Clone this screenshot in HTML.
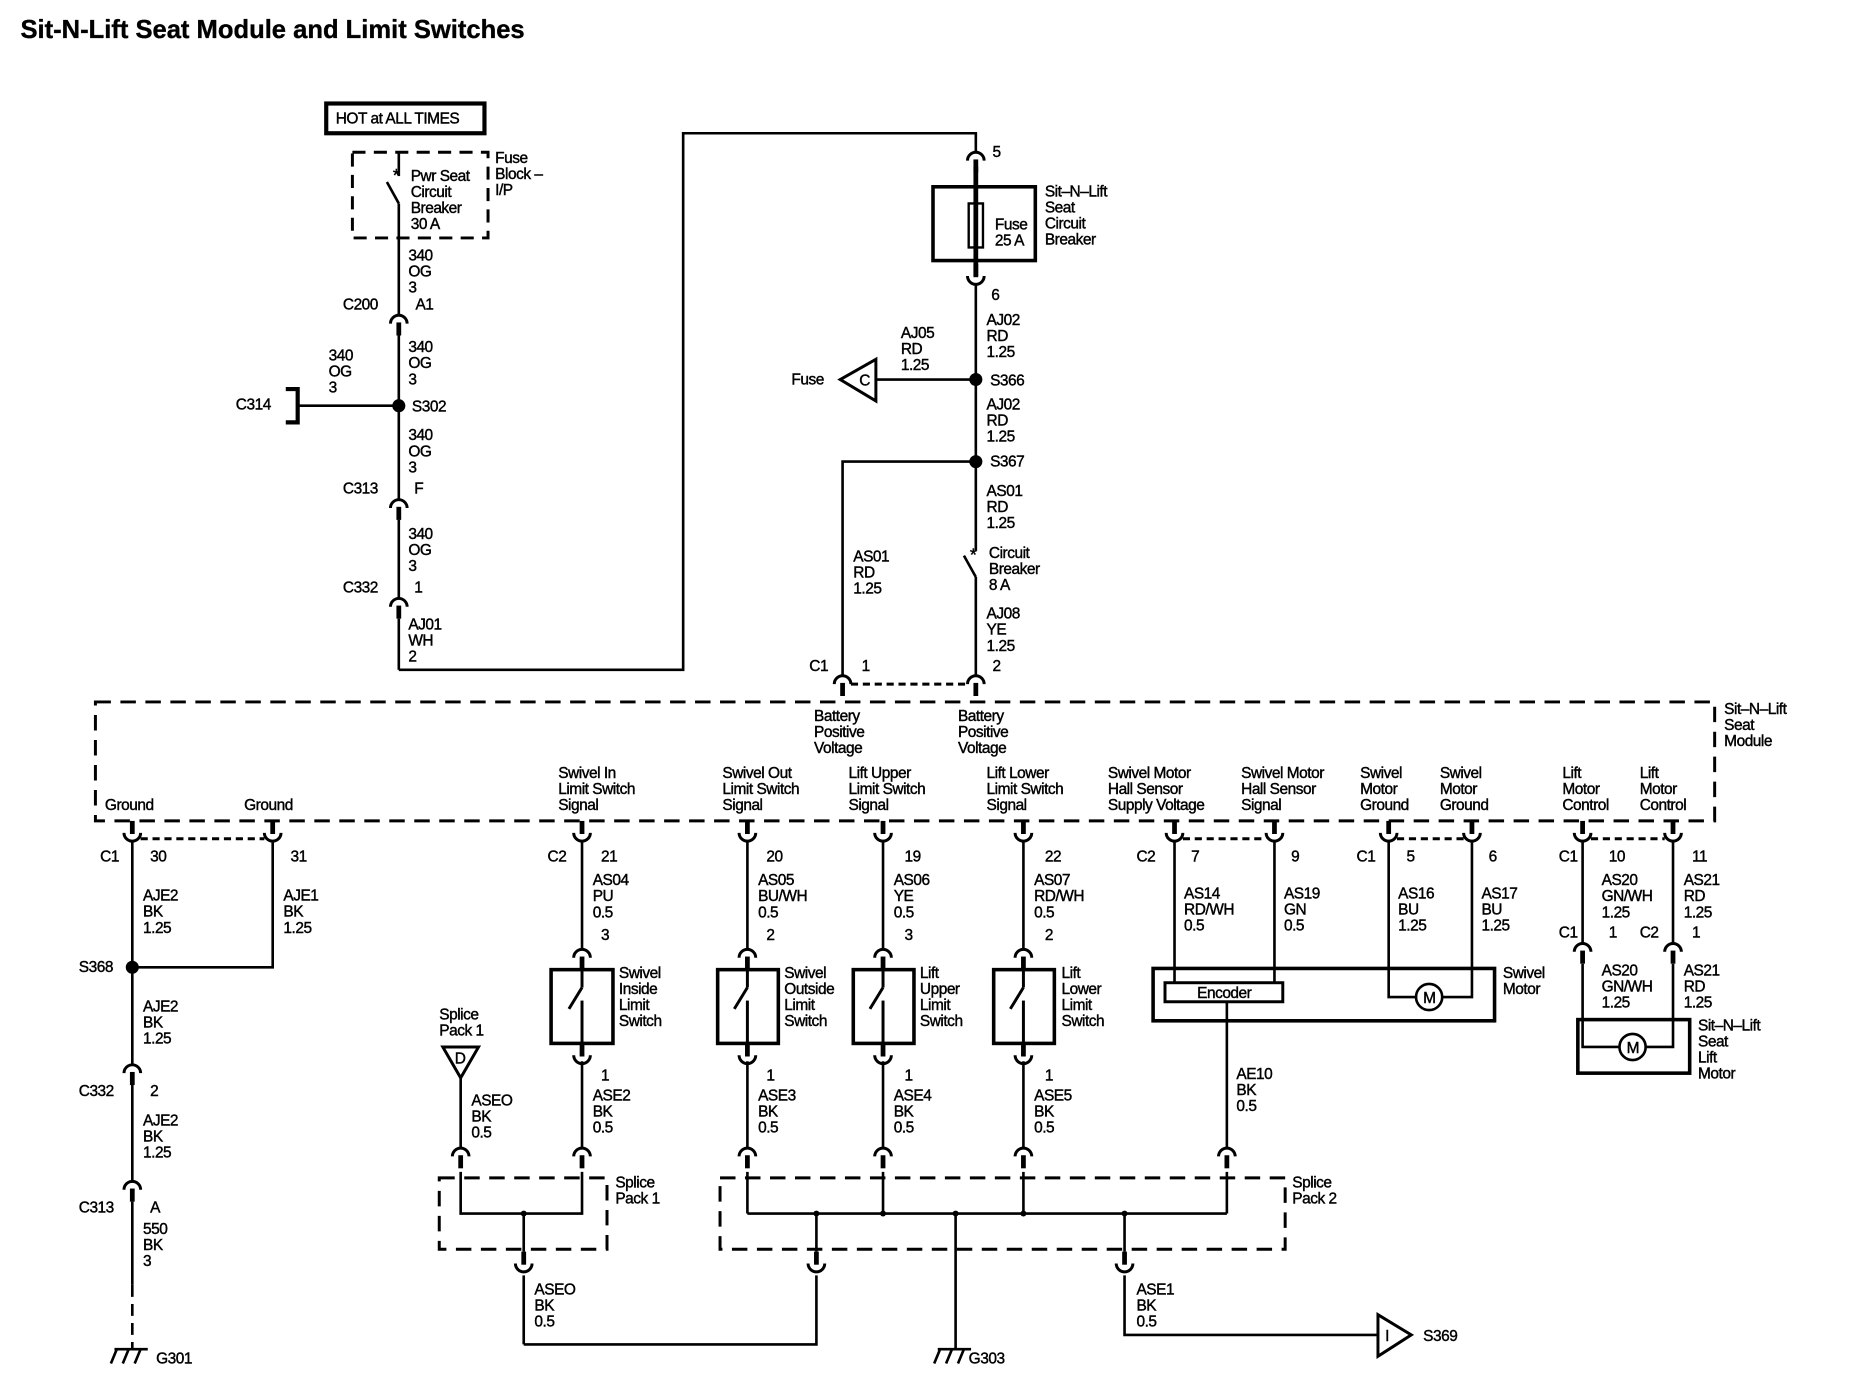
<!DOCTYPE html>
<html><head><meta charset="utf-8"><style>
html,body{margin:0;padding:0;background:#fff;}
svg{display:block;}
text{font-family:"Liberation Sans",Arial,sans-serif;font-size:13px;fill:#000;stroke:#000;stroke-width:0.35px;letter-spacing:-0.4px;}
</style></head><body>
<svg width="1866" height="1392" viewBox="0 0 1568 1170" xmlns="http://www.w3.org/2000/svg">
<defs>
<g id="U"><line x1="0" y1="-10" x2="0" y2="1" stroke="#000" stroke-width="4"/><path d="M-7,0 A7,7 0 0 0 7,0" fill="none" stroke="#000" stroke-width="2.5"/></g>
<g id="N"><path d="M-7,7 A7,7 0 0 1 7,7" fill="none" stroke="#000" stroke-width="2.5"/><line x1="0" y1="6" x2="0" y2="17" stroke="#000" stroke-width="4"/></g>
</defs>
<rect width="1568" height="1170" fill="#fff"/>
<text x="17" y="32" style="font-size:21.5px;font-weight:bold;letter-spacing:0px;stroke-width:0.3px">Sit-N-Lift Seat Module and Limit Switches</text>

<g stroke="#000" stroke-width="2.2" fill="none">
<rect x="274" y="87" width="133" height="25" stroke-width="3.5"/>
<rect x="296" y="128" width="114" height="72" stroke-dasharray="11,7" stroke-width="2.5"/>
<line x1="335" y1="128" x2="335" y2="148"/>
<line x1="325" y1="153" x2="335" y2="171"/>
<line x1="335" y1="171" x2="335" y2="265"/>
<line x1="335" y1="282" x2="335" y2="420"/>
<line x1="335" y1="437" x2="335" y2="503"/>
<line x1="335" y1="520" x2="335" y2="563"/>
<polyline points="335,563 574,563 574,112 820,112 820,128"/>
<line x1="250" y1="341" x2="335" y2="341"/>
<polyline points="240,327 250,327 250,355 240,355" stroke-width="3.5"/>
<line x1="820" y1="140" x2="820" y2="232" stroke-width="4"/>
<rect x="784" y="157" width="86" height="62" stroke-width="3"/>
<rect x="814" y="171" width="12" height="37" stroke-width="2"/>
<line x1="820" y1="239" x2="820" y2="463"/>
<line x1="810" y1="467" x2="820" y2="485"/>
<line x1="820" y1="485" x2="820" y2="568"/>
<line x1="736" y1="319" x2="820" y2="319"/>
<polygon points="706,319 736,302 736,337" stroke-width="2.5"/>
<polyline points="820,388 708,388 708,568"/>
<line x1="715" y1="575" x2="813" y2="575" stroke-dasharray="6,4" stroke-width="2.5"/>
<rect x="80" y="590" width="1361" height="100" stroke-dasharray="13,8" stroke-width="2.5"/>
<line x1="118" y1="705" x2="222" y2="705" stroke-dasharray="6,4" stroke-width="2.5"/>
<line x1="994" y1="705" x2="1064" y2="705" stroke-dasharray="6,4" stroke-width="2.5"/>
<line x1="1174" y1="705" x2="1230" y2="705" stroke-dasharray="6,4" stroke-width="2.5"/>
<line x1="1337" y1="705" x2="1399" y2="705" stroke-dasharray="6,4" stroke-width="2.5"/>
<line x1="111" y1="707" x2="111" y2="895"/>
<polyline points="229,707 229,813 111,813"/>
<line x1="111" y1="912" x2="111" y2="993"/>
<line x1="111" y1="1010" x2="111" y2="1080"/>
<line x1="111" y1="1080" x2="111" y2="1133" stroke-dasharray="10,6"/>
<line x1="96" y1="1134" x2="124" y2="1134"/>
<line x1="98" y1="1134" x2="93" y2="1146"/><line x1="108" y1="1134" x2="103" y2="1146"/><line x1="118" y1="1134" x2="113" y2="1146"/>
<line x1="489" y1="707" x2="489" y2="798"/>
<line x1="628" y1="707" x2="628" y2="798"/>
<line x1="742" y1="707" x2="742" y2="798"/>
<line x1="860" y1="707" x2="860" y2="798"/>
<g stroke-width="3">
<rect x="463" y="815" width="52" height="62"/>
<rect x="603" y="815" width="51" height="62"/>
<rect x="717" y="815" width="51" height="62"/>
<rect x="835" y="815" width="51" height="62"/>
</g>
<g stroke-width="2.5">
<line x1="489" y1="815" x2="489" y2="830"/><line x1="489" y1="830" x2="478" y2="848"/><line x1="489" y1="841" x2="489" y2="877"/>
<line x1="628" y1="815" x2="628" y2="830"/><line x1="628" y1="830" x2="617" y2="848"/><line x1="628" y1="841" x2="628" y2="877"/>
<line x1="742" y1="815" x2="742" y2="830"/><line x1="742" y1="830" x2="731" y2="848"/><line x1="742" y1="841" x2="742" y2="877"/>
<line x1="860" y1="815" x2="860" y2="830"/><line x1="860" y1="830" x2="849" y2="848"/><line x1="860" y1="841" x2="860" y2="877"/>
</g>
<line x1="489" y1="892" x2="489" y2="965"/>
<line x1="628" y1="892" x2="628" y2="965"/>
<line x1="742" y1="892" x2="742" y2="965"/>
<line x1="860" y1="892" x2="860" y2="965"/>
<polygon points="372,880 402,880 387,906" stroke-width="2.5"/>
<line x1="387" y1="906" x2="387" y2="965"/>
<rect x="369" y="990" width="141" height="60" stroke-dasharray="13,8" stroke-width="2.5"/>
<polyline points="387,985 387,1020 489,1020 489,985"/>
<line x1="440" y1="1020" x2="440" y2="1052"/>
<line x1="440" y1="1072" x2="440" y2="1130"/>
<polyline points="440,1130 686,1130 686,1072"/>
<rect x="605" y="990" width="475" height="60" stroke-dasharray="13,8" stroke-width="2.5"/>
<line x1="628" y1="1020" x2="1031" y2="1020"/>
<line x1="628" y1="985" x2="628" y2="1020"/>
<line x1="742" y1="985" x2="742" y2="1020"/>
<line x1="860" y1="985" x2="860" y2="1020"/>
<line x1="1031" y1="842" x2="1031" y2="965"/>
<line x1="1031" y1="985" x2="1031" y2="1020"/>
<line x1="686" y1="1020" x2="686" y2="1052"/>
<line x1="945" y1="1020" x2="945" y2="1052"/>
<line x1="803" y1="1020" x2="803" y2="1134"/>
<line x1="788" y1="1134" x2="816" y2="1134"/>
<line x1="790" y1="1134" x2="785" y2="1146"/><line x1="800" y1="1134" x2="795" y2="1146"/><line x1="810" y1="1134" x2="805" y2="1146"/>
<polyline points="945,1072 945,1122 1158,1122"/>
<polygon points="1158,1105 1158,1140 1186,1122" stroke-width="2.5"/>
<rect x="969" y="814" width="287" height="44" stroke-width="3"/>
<rect x="979" y="826" width="99" height="16" stroke-width="2.5"/>
<line x1="987" y1="707" x2="987" y2="826"/>
<line x1="1071" y1="707" x2="1071" y2="826"/>
<polyline points="1167,707 1167,838 1190,838"/>
<polyline points="1237,707 1237,838 1212,838"/>
<circle cx="1201" cy="838" r="11"/>
<line x1="1330" y1="707" x2="1330" y2="793"/>
<line x1="1406" y1="707" x2="1406" y2="793"/>
<rect x="1326" y="857" width="94" height="45" stroke-width="3"/>
<polyline points="1330,810 1330,880 1361,880"/>
<polyline points="1406,810 1406,880 1383,880"/>
<circle cx="1372" cy="880" r="11"/>
</g>
<g fill="#000">
<circle cx="335" cy="341" r="5.5"/>
<circle cx="820" cy="319" r="5.5"/>
<circle cx="820" cy="388" r="5.5"/>
<circle cx="111" cy="813" r="5.5"/>
<circle cx="440" cy="1020" r="2.5"/><circle cx="686" cy="1020" r="2.5"/><circle cx="742" cy="1020" r="2.5"/><circle cx="803" cy="1020" r="2.5"/><circle cx="860" cy="1020" r="2.5"/><circle cx="945" cy="1020" r="2.5"/>
</g>
<use href="#N" x="335" y="265"/>
<use href="#N" x="335" y="420"/>
<use href="#N" x="335" y="503"/>
<use href="#N" x="820" y="128"/>
<use href="#U" x="820" y="232"/>
<use href="#N" x="708" y="568"/>
<use href="#N" x="820" y="568"/>
<use href="#U" x="111" y="700"/><use href="#U" x="229" y="700"/><use href="#U" x="489" y="700"/><use href="#U" x="628" y="700"/><use href="#U" x="742" y="700"/><use href="#U" x="860" y="700"/><use href="#U" x="987" y="700"/><use href="#U" x="1071" y="700"/><use href="#U" x="1167" y="700"/><use href="#U" x="1237" y="700"/><use href="#U" x="1330" y="700"/><use href="#U" x="1406" y="700"/>
<use href="#N" x="489" y="798"/><use href="#N" x="628" y="798"/><use href="#N" x="742" y="798"/><use href="#N" x="860" y="798"/>
<use href="#U" x="489" y="887"/><use href="#U" x="628" y="887"/><use href="#U" x="742" y="887"/><use href="#U" x="860" y="887"/>
<use href="#N" x="111" y="895"/>
<use href="#N" x="111" y="993"/>
<use href="#N" x="387" y="965"/><use href="#N" x="489" y="965"/><use href="#N" x="628" y="965"/><use href="#N" x="742" y="965"/><use href="#N" x="860" y="965"/><use href="#N" x="1031" y="965"/>
<use href="#U" x="440" y="1062"/><use href="#U" x="686" y="1062"/><use href="#U" x="945" y="1062"/>
<use href="#N" x="1330" y="793"/><use href="#N" x="1406" y="793"/>

<text x="282" y="104">HOT at ALL TIMES</text>
<text x="416" y="137">Fuse<tspan x="416" dy="13.5">Block –</tspan><tspan x="416" dy="13.5">I/P</tspan></text>
<text x="330" y="152" style="font-size:15px">*</text>
<text x="345" y="152">Pwr Seat<tspan x="345" dy="13.5">Circuit</tspan><tspan x="345" dy="13.5">Breaker</tspan><tspan x="345" dy="13.5">30 A</tspan></text>
<text x="343" y="219">340<tspan x="343" dy="13.5">OG</tspan><tspan x="343" dy="13.5">3</tspan></text>
<text x="288" y="260">C200</text><text x="349" y="260">A1</text>
<text x="343" y="296">340<tspan x="343" dy="13.5">OG</tspan><tspan x="343" dy="13.5">3</tspan></text>
<text x="276" y="303">340<tspan x="276" dy="13.5">OG</tspan><tspan x="276" dy="13.5">3</tspan></text>
<text x="198" y="344">C314</text><text x="346" y="346">S302</text>
<text x="343" y="370">340<tspan x="343" dy="13.5">OG</tspan><tspan x="343" dy="13.5">3</tspan></text>
<text x="288" y="415">C313</text><text x="348" y="415">F</text>
<text x="343" y="453">340<tspan x="343" dy="13.5">OG</tspan><tspan x="343" dy="13.5">3</tspan></text>
<text x="288" y="498">C332</text><text x="348" y="498">1</text>
<text x="343" y="529">AJ01<tspan x="343" dy="13.5">WH</tspan><tspan x="343" dy="13.5">2</tspan></text>

<text x="834" y="132">5</text>
<text x="836" y="193">Fuse<tspan x="836" dy="13.5">25 A</tspan></text>
<text x="878" y="165">Sit–N–Lift<tspan x="878" dy="13.5">Seat</tspan><tspan x="878" dy="13.5">Circuit</tspan><tspan x="878" dy="13.5">Breaker</tspan></text>
<text x="833" y="252">6</text>
<text x="829" y="273">AJ02<tspan x="829" dy="13.5">RD</tspan><tspan x="829" dy="13.5">1.25</tspan></text>
<text x="757" y="284">AJ05<tspan x="757" dy="13.5">RD</tspan><tspan x="757" dy="13.5">1.25</tspan></text>
<text x="665" y="323">Fuse</text><text x="722" y="324">C</text>
<text x="832" y="324">S366</text>
<text x="829" y="344">AJ02<tspan x="829" dy="13.5">RD</tspan><tspan x="829" dy="13.5">1.25</tspan></text>
<text x="832" y="392">S367</text>
<text x="829" y="417">AS01<tspan x="829" dy="13.5">RD</tspan><tspan x="829" dy="13.5">1.25</tspan></text>
<text x="815" y="471" style="font-size:15px">*</text>
<text x="831" y="469">Circuit<tspan x="831" dy="13.5">Breaker</tspan><tspan x="831" dy="13.5">8 A</tspan></text>
<text x="717" y="472">AS01<tspan x="717" dy="13.5">RD</tspan><tspan x="717" dy="13.5">1.25</tspan></text>
<text x="829" y="520">AJ08<tspan x="829" dy="13.5">YE</tspan><tspan x="829" dy="13.5">1.25</tspan></text>
<text x="680" y="564">C1</text><text x="724" y="564">1</text><text x="834" y="564">2</text>

<text x="1449" y="600">Sit–N–Lift<tspan x="1449" dy="13.5">Seat</tspan><tspan x="1449" dy="13.5">Module</tspan></text>
<text x="684" y="606">Battery<tspan x="684" dy="13.5">Positive</tspan><tspan x="684" dy="13.5">Voltage</tspan></text>
<text x="805" y="606">Battery<tspan x="805" dy="13.5">Positive</tspan><tspan x="805" dy="13.5">Voltage</tspan></text>
<text x="88" y="681">Ground</text><text x="205" y="681">Ground</text>
<text x="469" y="654">Swivel In<tspan x="469" dy="13.5">Limit Switch</tspan><tspan x="469" dy="13.5">Signal</tspan></text>
<text x="607" y="654">Swivel Out<tspan x="607" dy="13.5">Limit Switch</tspan><tspan x="607" dy="13.5">Signal</tspan></text>
<text x="713" y="654">Lift Upper<tspan x="713" dy="13.5">Limit Switch</tspan><tspan x="713" dy="13.5">Signal</tspan></text>
<text x="829" y="654">Lift Lower<tspan x="829" dy="13.5">Limit Switch</tspan><tspan x="829" dy="13.5">Signal</tspan></text>
<text x="931" y="654">Swivel Motor<tspan x="931" dy="13.5">Hall Sensor</tspan><tspan x="931" dy="13.5">Supply Voltage</tspan></text>
<text x="1043" y="654">Swivel Motor<tspan x="1043" dy="13.5">Hall Sensor</tspan><tspan x="1043" dy="13.5">Signal</tspan></text>
<text x="1143" y="654">Swivel<tspan x="1143" dy="13.5">Motor</tspan><tspan x="1143" dy="13.5">Ground</tspan></text>
<text x="1210" y="654">Swivel<tspan x="1210" dy="13.5">Motor</tspan><tspan x="1210" dy="13.5">Ground</tspan></text>
<text x="1313" y="654">Lift<tspan x="1313" dy="13.5">Motor</tspan><tspan x="1313" dy="13.5">Control</tspan></text>
<text x="1378" y="654">Lift<tspan x="1378" dy="13.5">Motor</tspan><tspan x="1378" dy="13.5">Control</tspan></text>

<text x="84" y="724">C1</text><text x="126" y="724">30</text><text x="244" y="724">31</text>
<text x="460" y="724">C2</text><text x="505" y="724">21</text>
<text x="644" y="724">20</text><text x="760" y="724">19</text><text x="878" y="724">22</text>
<text x="955" y="724">C2</text><text x="1001" y="724">7</text><text x="1085" y="724">9</text>
<text x="1140" y="724">C1</text><text x="1182" y="724">5</text><text x="1251" y="724">6</text>
<text x="1310" y="724">C1</text><text x="1352" y="724">10</text><text x="1422" y="724">11</text>

<text x="120" y="757">AJE2<tspan x="120" dy="13.5">BK</tspan><tspan x="120" dy="13.5">1.25</tspan></text>
<text x="238" y="757">AJE1<tspan x="238" dy="13.5">BK</tspan><tspan x="238" dy="13.5">1.25</tspan></text>
<text x="66" y="817">S368</text>
<text x="120" y="850">AJE2<tspan x="120" dy="13.5">BK</tspan><tspan x="120" dy="13.5">1.25</tspan></text>
<text x="66" y="921">C332</text><text x="126" y="921">2</text>
<text x="120" y="946">AJE2<tspan x="120" dy="13.5">BK</tspan><tspan x="120" dy="13.5">1.25</tspan></text>
<text x="66" y="1019">C313</text><text x="126" y="1019">A</text>
<text x="120" y="1037">550<tspan x="120" dy="13.5">BK</tspan><tspan x="120" dy="13.5">3</tspan></text>
<text x="131" y="1146">G301</text>

<text x="498" y="744">AS04<tspan x="498" dy="13.5">PU</tspan><tspan x="498" dy="13.5">0.5</tspan></text>
<text x="637" y="744">AS05<tspan x="637" dy="13.5">BU/WH</tspan><tspan x="637" dy="13.5">0.5</tspan></text>
<text x="751" y="744">AS06<tspan x="751" dy="13.5">YE</tspan><tspan x="751" dy="13.5">0.5</tspan></text>
<text x="869" y="744">AS07<tspan x="869" dy="13.5">RD/WH</tspan><tspan x="869" dy="13.5">0.5</tspan></text>
<text x="505" y="790">3</text><text x="644" y="790">2</text><text x="760" y="790">3</text><text x="878" y="790">2</text>
<text x="520" y="822">Swivel<tspan x="520" dy="13.5">Inside</tspan><tspan x="520" dy="13.5">Limit</tspan><tspan x="520" dy="13.5">Switch</tspan></text>
<text x="659" y="822">Swivel<tspan x="659" dy="13.5">Outside</tspan><tspan x="659" dy="13.5">Limit</tspan><tspan x="659" dy="13.5">Switch</tspan></text>
<text x="773" y="822">Lift<tspan x="773" dy="13.5">Upper</tspan><tspan x="773" dy="13.5">Limit</tspan><tspan x="773" dy="13.5">Switch</tspan></text>
<text x="892" y="822">Lift<tspan x="892" dy="13.5">Lower</tspan><tspan x="892" dy="13.5">Limit</tspan><tspan x="892" dy="13.5">Switch</tspan></text>
<text x="505" y="908">1</text><text x="644" y="908">1</text><text x="760" y="908">1</text><text x="878" y="908">1</text>
<text x="498" y="925">ASE2<tspan x="498" dy="13.5">BK</tspan><tspan x="498" dy="13.5">0.5</tspan></text>
<text x="637" y="925">ASE3<tspan x="637" dy="13.5">BK</tspan><tspan x="637" dy="13.5">0.5</tspan></text>
<text x="751" y="925">ASE4<tspan x="751" dy="13.5">BK</tspan><tspan x="751" dy="13.5">0.5</tspan></text>
<text x="869" y="925">ASE5<tspan x="869" dy="13.5">BK</tspan><tspan x="869" dy="13.5">0.5</tspan></text>
<text x="369" y="857">Splice<tspan x="369" dy="13.5">Pack 1</tspan></text>
<text x="382" y="894">D</text>
<text x="396" y="929">ASEO<tspan x="396" dy="13.5">BK</tspan><tspan x="396" dy="13.5">0.5</tspan></text>
<text x="517" y="998">Splice<tspan x="517" dy="13.5">Pack 1</tspan></text>
<text x="1086" y="998">Splice<tspan x="1086" dy="13.5">Pack 2</tspan></text>
<text x="449" y="1088">ASEO<tspan x="449" dy="13.5">BK</tspan><tspan x="449" dy="13.5">0.5</tspan></text>
<text x="955" y="1088">ASE1<tspan x="955" dy="13.5">BK</tspan><tspan x="955" dy="13.5">0.5</tspan></text>
<text x="814" y="1146">G303</text>
<text x="1164" y="1127">I</text>
<text x="1196" y="1127">S369</text>

<text x="995" y="755">AS14<tspan x="995" dy="13.5">RD/WH</tspan><tspan x="995" dy="13.5">0.5</tspan></text>
<text x="1079" y="755">AS19<tspan x="1079" dy="13.5">GN</tspan><tspan x="1079" dy="13.5">0.5</tspan></text>
<text x="1175" y="755">AS16<tspan x="1175" dy="13.5">BU</tspan><tspan x="1175" dy="13.5">1.25</tspan></text>
<text x="1245" y="755">AS17<tspan x="1245" dy="13.5">BU</tspan><tspan x="1245" dy="13.5">1.25</tspan></text>
<text x="1006" y="839">Encoder</text>
<text x="1196" y="843">M</text>
<text x="1263" y="822">Swivel<tspan x="1263" dy="13.5">Motor</tspan></text>
<text x="1039" y="907">AE10<tspan x="1039" dy="13.5">BK</tspan><tspan x="1039" dy="13.5">0.5</tspan></text>
<text x="1346" y="744">AS20<tspan x="1346" dy="13.5">GN/WH</tspan><tspan x="1346" dy="13.5">1.25</tspan></text>
<text x="1415" y="744">AS21<tspan x="1415" dy="13.5">RD</tspan><tspan x="1415" dy="13.5">1.25</tspan></text>
<text x="1310" y="788">C1</text><text x="1352" y="788">1</text><text x="1378" y="788">C2</text><text x="1422" y="788">1</text>
<text x="1346" y="820">AS20<tspan x="1346" dy="13.5">GN/WH</tspan><tspan x="1346" dy="13.5">1.25</tspan></text>
<text x="1415" y="820">AS21<tspan x="1415" dy="13.5">RD</tspan><tspan x="1415" dy="13.5">1.25</tspan></text>
<text x="1367" y="885">M</text>
<text x="1427" y="866">Sit–N–Lift<tspan x="1427" dy="13.5">Seat</tspan><tspan x="1427" dy="13.5">Lift</tspan><tspan x="1427" dy="13.5">Motor</tspan></text>
</svg>
</body></html>
